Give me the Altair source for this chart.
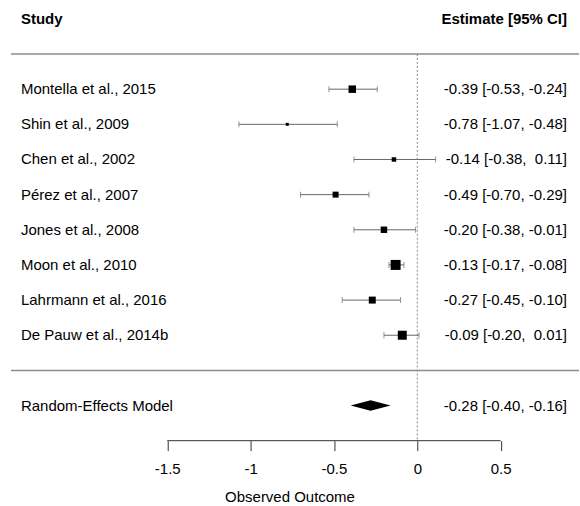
import altair as alt
import pandas as pd

# ---- data ----
studies = ["Montella et al., 2015", "Shin et al., 2009", "Chen et al., 2002",
           "Pérez et al., 2007", "Jones et al., 2008", "Moon et al., 2010",
           "Lahrmann et al., 2016", "De Pauw et al., 2014b"]
estimates = [-0.39, -0.78, -0.14, -0.49, -0.20, -0.13, -0.27, -0.09]
ci_lower = [-0.53, -1.07, -0.38, -0.70, -0.38, -0.17, -0.45, -0.20]
ci_upper = [-0.24, -0.48, 0.11, -0.29, -0.01, -0.08, -0.10, 0.01]
rel_weight = [7.5, 3, 4.5, 6, 6.5, 10, 7, 9]

re_label = "Random-Effects Model"
re_est, re_lb, re_ub = -0.28, -0.40, -0.16

tick_values = [-1.5, -1, -0.5, 0, 0.5]
x_title = "Observed Outcome"
header_left = "Study"
header_right = "Estimate [95% CI]"


def fmt_ci(e, l, u):
    def f(v):
        return f"{v:.2f}"
    ub_txt = f(u) if u < 0 else "\u00a0" + f(u)
    return f"{f(e)} [{f(l)}, {ub_txt}]"


n = len(studies)
rows = list(range(1, n + 1))
study_df = pd.DataFrame({
    "study": studies, "est": estimates, "lb": ci_lower, "ub": ci_upper,
    "w": rel_weight, "row": rows,
    "label": [fmt_ci(e, l, u) for e, l, u in zip(estimates, ci_lower, ci_upper)],
})
caps_df = pd.DataFrame({"x": ci_lower + ci_upper, "row": rows + rows})

re_row = n + 2
sep_rows = [0, n + 1]
axis_row = n + 3
header_row = -1

re_df = pd.DataFrame({"text": [re_label], "ci": [fmt_ci(re_est, re_lb, re_ub)], "row": [re_row]})
half = 0.15
diamond_df = pd.DataFrame({
    "x": [re_lb, re_est, re_ub],
    "y1": [re_row, re_row - half, re_row],
    "y2": [re_row, re_row + half, re_row],
})
header_df = pd.DataFrame({"left": [header_left], "right": [header_right], "row": [header_row]})
sep_df = pd.DataFrame({"row": sep_rows})
zero_df = pd.DataFrame({"x": [0], "y1": [0], "y2": [axis_row]})
axisline_df = pd.DataFrame({"x1": [min(tick_values)], "x2": [max(tick_values)], "row": [axis_row]})

FONT = "Liberation Sans"
FS = 15
xscale = alt.Scale(domain=[-2.503, 0.970], nice=False, zero=False)
yscale = alt.Scale(domain=[-1.525, axis_row], nice=False, zero=False, reverse=True)
xaxis = alt.Axis(values=tick_values, labelExpr="'' + datum.value", domain=False, grid=False,
                 tickSize=10, tickColor="#333", labelPadding=11, labelFontSize=FS,
                 labelFont=FONT, labelColor="black", title=x_title, titleFont=FONT,
                 titleFontSize=FS, titleFontWeight="normal", titleColor="black",
                 titlePadding=13, labelFlush=False)


def X(field):
    return alt.X(field, type="quantitative", scale=xscale, axis=xaxis)


def Y(field):
    return alt.Y(field, type="quantitative", scale=yscale, axis=None)


seps = alt.Chart(sep_df).mark_rule(color="#8c8c8c", strokeWidth=1.5).encode(
    x=alt.value(11), x2=alt.value(580), y=Y("row"))

zero = alt.Chart(zero_df).mark_rule(color="#888", strokeDash=[2, 2], strokeWidth=1).encode(
    x=X("x"), y=Y("y1"), y2="y2")

ci = alt.Chart(study_df).mark_rule(color="#666", strokeWidth=1).encode(
    x=X("lb"), x2="ub", y=Y("row"))

caps = alt.Chart(caps_df).mark_tick(orient="vertical", color="#666", thickness=1, size=6).encode(
    x=X("x"), y=Y("row"))

squares = alt.Chart(study_df).mark_square(color="black", opacity=1, filled=True).encode(
    x=X("est"), y=Y("row"),
    size=alt.Size("w", type="quantitative", legend=None,
                  scale=alt.Scale(type="pow", exponent=2, domain=[0, 10], range=[0, 100])))

labels = alt.Chart(study_df).mark_text(align="left", baseline="middle", font=FONT,
                                        fontSize=FS, color="black").encode(
    x=alt.value(21), y=Y("row"), text="study")

est_txt = alt.Chart(study_df).mark_text(align="right", baseline="middle", font=FONT,
                                         fontSize=FS, color="black").encode(
    x=alt.value(568), y=Y("row"), text="label")

hdr_l = alt.Chart(header_df).mark_text(align="left", baseline="middle", font=FONT,
                                        fontSize=FS, fontWeight="bold", color="black").encode(
    x=alt.value(21), y=Y("row"), text="left")
hdr_r = alt.Chart(header_df).mark_text(align="right", baseline="middle", font=FONT,
                                        fontSize=FS, fontWeight="bold", color="black").encode(
    x=alt.value(568), y=Y("row"), text="right")

re_l = alt.Chart(re_df).mark_text(align="left", baseline="middle", font=FONT,
                                   fontSize=FS, color="black").encode(
    x=alt.value(21), y=Y("row"), text="text")
re_r = alt.Chart(re_df).mark_text(align="right", baseline="middle", font=FONT,
                                   fontSize=FS, color="black").encode(
    x=alt.value(568), y=Y("row"), text="ci")

diamond = alt.Chart(diamond_df).mark_area(color="black", opacity=1).encode(
    x=X("x"), y=Y("y1"), y2="y2")

axis_line = alt.Chart(axisline_df).mark_rule(color="#333", strokeWidth=1).encode(
    x=X("x1"), x2="x2", y=Y("row"))

chart = alt.layer(seps, zero, ci, caps, squares, labels, est_txt, hdr_l, hdr_r,
                  re_l, re_r, diamond, axis_line).properties(
    width=580, height=441, padding=0, background="white"
).configure_view(stroke=None)

chart.save("out.html", embed_options={"renderer": "svg", "actions": False})
